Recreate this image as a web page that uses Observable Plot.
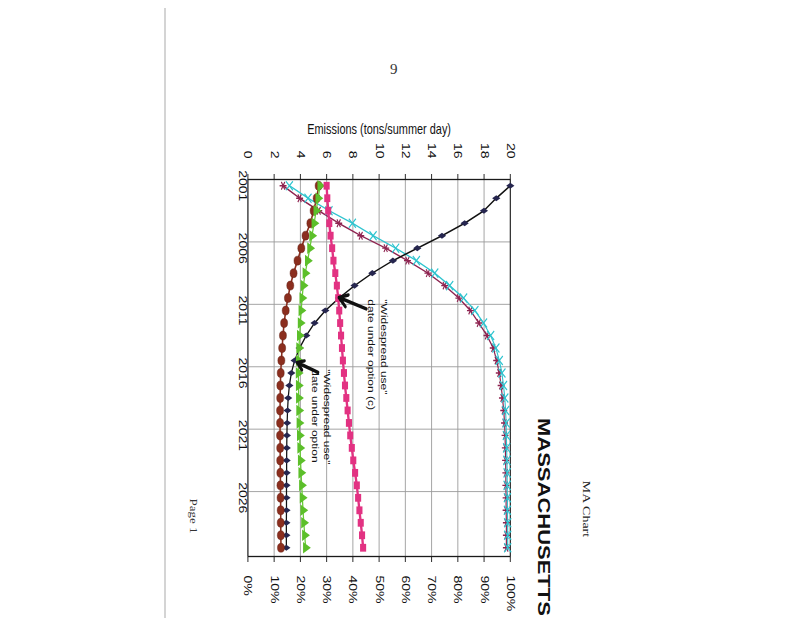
<!DOCTYPE html>
<html>
<head>
<meta charset="utf-8">
<script src="https://cdn.jsdelivr.net/npm/d3@7"></script>
<script src="https://cdn.jsdelivr.net/npm/@observablehq/plot@0.6"></script>
<style>
  html, body { margin:0; padding:0; background:#fff; width:800px; height:618px; overflow:hidden; }
  #page { position:absolute; left:0; top:0; width:640px; height:1030px; transform-origin:0 0;
          transform: translate(800px,0) scale(0.78,1) rotate(90deg); }
  #chart { position:absolute; left:60px; top:300px; }
  #chart svg { overflow:visible; }
  #deco { position:absolute; left:0; top:0; overflow:visible; }
  #edge { position:absolute; left:164px; top:8px; width:1.5px; height:610px; background:#d4d4d4; }
  #pnum { position:absolute; left:390px; top:61px; font:15px "Liberation Serif", "Times New Roman", serif; color:#333; }
</style>
</head>
<body>
<div id="edge"></div>
<div id="pnum">9</div>
<div id="page">
  <svg id="deco" width="640" height="1030">
    <text x="509" y="278" text-anchor="middle" font-family="Liberation Serif, Times New Roman, serif" font-size="14" fill="#222">MA Chart</text>
    <text x="418" y="336" font-family="Liberation Sans, Arial, sans-serif" font-weight="bold" font-size="22" fill="#111">MASSACHUSETTS</text>
    <text x="516" y="782" text-anchor="middle" font-family="Liberation Serif, Times New Roman, serif" font-size="13" fill="#333">Page 1</text>
  </svg>
  <div id="chart"></div>
</div>
<script>
// ---- data ----
const years = [2001,2002,2003,2004,2005,2006,2007,2008,2009,2010,2011,2012,2013,2014,2015,
               2016,2017,2018,2019,2020,2021,2022,2023,2024,2025,2026,2027,2028,2029,2030];
// emissions series (tons/summer day)
const navyDiamond = [20,18.93,17.99,16.52,14.79,12.91,11.05,9.48,8.13,6.94,5.9,5.08,4.45,3.94,3.56,
                     3.31,3.16,3.07,3.02,2.99,2.97,2.96,2.95,2.95,2.94,2.94,2.94,2.93,2.93,2.93];
const brownCircle = [5.39,5.24,5.01,4.76,4.39,4.07,3.78,3.48,3.23,3.05,2.88,2.76,2.67,2.61,2.55,
                     2.5,2.47,2.46,2.45,2.45,2.45,2.46,2.46,2.47,2.48,2.49,2.5,2.5,2.51,2.52];
const pinkSquare  = [6.0,6.05,6.12,6.2,6.3,6.42,6.52,6.66,6.78,6.88,6.96,7.03,7.1,7.17,7.24,
                     7.32,7.4,7.5,7.6,7.7,7.8,7.92,8.03,8.17,8.3,8.4,8.5,8.6,8.7,8.78];
const greenTriangle = [5.5,5.35,5.2,5.05,4.88,4.72,4.55,4.37,4.22,4.13,4.06,4.0,3.94,3.89,3.86,
                       3.85,3.86,3.87,3.89,3.91,3.94,3.97,4.01,4.05,4.1,4.15,4.2,4.26,4.33,4.4];
// percentage series (right axis)
const redStarPct  = [13.4,19.7,27,34.6,43,52.5,60.8,68.6,75,80.4,84.8,88,91.1,93.5,94.8,
                     95.8,96.5,97,97.5,97.8,98,98.1,98.2,98.3,98.3,98.4,98.4,98.5,98.5,98.5];
const cyanXPct    = [15.8,22.9,30.9,39.8,47.7,56.3,64.2,71.2,76.9,82.2,86.5,89.8,92.5,94.5,95.8,
                     96.8,97.4,97.9,98.2,98.4,98.5,98.6,98.7,98.8,98.8,98.9,98.9,99,99,99];
// axes
const emissionTicks = [0,2,4,6,8,10,12,14,16,18,20];
const yearLabels = [2001,2006,2011,2016,2021,2026];
const yearBounds = [2005.5,2010.5,2015.5,2020.5,2025.5];
const axisTitle = "Emissions (tons/summer day)";
// annotations
const noteText  = ['"Widespread use"\ndate under option (c)', '"Widespread use"\ndate under option'];
const noteYear  = [2010.1, 2015.7];
const noteValue = [9.95, 5.62];
const arrowFromYear = [2010.86, 2015.95], arrowFromValue = [9.02, 5.34];
const arrowToYear   = [2009.95, 2015.16], arrowToValue   = [6.94, 3.75];

// ---- tables ----
const rows = years.map((y,i) => ({year:y, navy:navyDiamond[i], brown:brownCircle[i], pink:pinkSquare[i],
  green:greenTriangle[i], red:redStarPct[i]/5, cyan:cyanXPct[i]/5}));
const notes = noteText.map((t,i) => ({t, x:noteYear[i], y:noteValue[i]}));
const arrows = arrowFromYear.map((x,i) => ({x1:x, y1:arrowFromValue[i], x2:arrowToYear[i], y2:arrowToValue[i]}));

const W = 560, H = 460;
const font = "Liberation Sans, Arial, sans-serif";

const chart = Plot.plot({
  width: W, height: H,
  marginLeft: 119, marginRight: 64, marginTop: 70.9, marginBottom: 52.7,
  style: {fontFamily: font, background: "transparent", color: "#111"},
  x: {domain: [2000.5, 2030.7]},
  y: {domain: [0, 20]},
  marks: [
    Plot.ruleY(emissionTicks, {stroke: "#9a9a9a", strokeWidth: 1}),
    Plot.ruleX(yearBounds, {stroke: "#9a9a9a", strokeWidth: 1}),
    Plot.frame({stroke: "#1a1a1a", strokeWidth: 1.3}),
    Plot.axisY({anchor: "left", ticks: emissionTicks, tickSize: 5, tickPadding: 16, fontSize: 14, label: null}),
    Plot.axisY({anchor: "right", ticks: emissionTicks, tickFormat: d => (d*5) + "%", tickSize: 5, tickPadding: 14, fontSize: 14, label: null}),
    Plot.axisX({ticks: yearLabels, tickFormat: d => String(d), tickSize: 0, tickPadding: 2, fontSize: 14, label: null}),
    Plot.text([axisTitle], {frameAnchor: "left", dx: -50, rotate: -90, fontSize: 14, fill: "#111", textAnchor: "middle", lineAnchor: "middle"}),

    Plot.line(rows, {x: "year", y: "red", stroke: "#8e2350", strokeWidth: 1.5}),
    Plot.dot(rows, {x: "year", y: "red", symbol: "asterisk", r: 4.2, stroke: "#8e2350", strokeWidth: 1.4}),
    Plot.line(rows, {x: "year", y: "cyan", stroke: "#2ec4cf", strokeWidth: 1.4}),
    Plot.dot(rows, {x: "year", y: "cyan", symbol: "times", r: 4.2, stroke: "#2ec4cf", strokeWidth: 1.4}),

    Plot.line(rows, {x: "year", y: "navy", stroke: "#111", strokeWidth: 1.6}),
    Plot.dot(rows, {x: "year", y: "navy", symbol: "diamond", r: 3.2, fill: "#26264f"}),

    Plot.line(rows, {x: "year", y: "brown", stroke: "#8b2e1e", strokeWidth: 2}),
    Plot.dot(rows, {x: "year", y: "brown", symbol: "circle", r: 4.5, fill: "#8b2e1e", stroke: "#5c1c10", strokeWidth: 0.5}),

    Plot.line(rows, {x: "year", y: "green", stroke: "#66cc33", strokeWidth: 1.6}),
    Plot.dot(rows, {x: "year", y: "green", symbol: "triangle", r: 4.3, fill: "#5cbf2a"}),

    Plot.line(rows, {x: "year", y: "pink", stroke: "#e23282", strokeWidth: 3}),
    Plot.dot(rows, {x: "year", y: "pink", symbol: "square", r: 4.4, fill: "#e23282"}),

    Plot.arrow(arrows, {x1: "x1", y1: "y1", x2: "x2", y2: "y2", stroke: "#111", strokeWidth: 3.5, headLength: 8, insetEnd: 0}),
    Plot.text(notes, {x: "x", y: "y", text: "t", textAnchor: "start", lineAnchor: "middle", lineHeight: 1.3, fontSize: 12, fill: "#111"})
  ]
});
document.getElementById("chart").appendChild(chart);
</script>
</body>
</html>
